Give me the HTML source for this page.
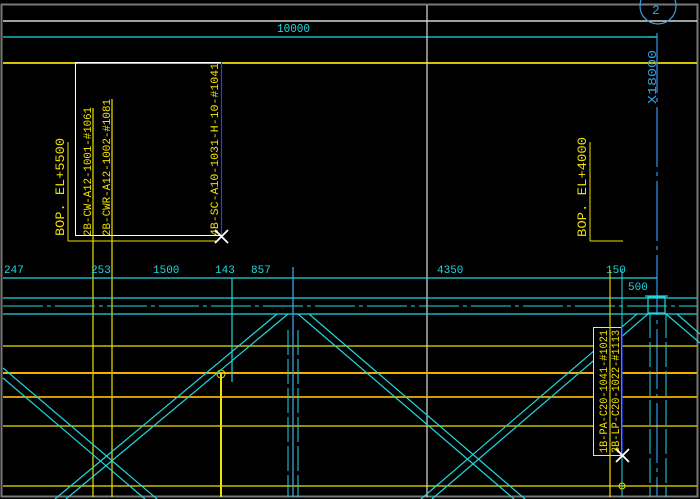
<!DOCTYPE html>
<html><head><style>
html,body{margin:0;padding:0;background:#000;width:700px;height:499px;overflow:hidden}
svg{display:block}
text{font-family:"Liberation Mono",monospace}
</style></head><body>
<svg width="700" height="499" viewBox="0 0 700 499" xmlns="http://www.w3.org/2000/svg">
<rect x="0" y="0" width="700" height="499" fill="#000"/>
<rect x="1.5" y="4.5" width="696" height="492" fill="none" stroke="#777" stroke-width="2"/>
<line x1="3" y1="21" x2="697" y2="21" stroke="#fff" stroke-width="1.2"/>
<line x1="3" y1="37" x2="657" y2="37" stroke="#1ed8e0" stroke-width="1.2"/>
<line x1="3" y1="63" x2="697" y2="63" stroke="#f0e000" stroke-width="1.8"/>
<text x="277" y="32" fill="#1ed8e0" font-size="12" textLength="33" lengthAdjust="spacingAndGlyphs">10000</text>
<line x1="427" y1="5" x2="427" y2="497" stroke="#ddd" stroke-width="1.2"/>
<circle cx="658" cy="6" r="18" fill="none" stroke="#3aa0e0" stroke-width="1.2"/>
<text x="652" y="14" fill="#3aa0e0" font-size="13">2</text>
<line x1="657" y1="33" x2="657" y2="497" stroke="#2a8ae0" stroke-width="1.3" stroke-dasharray="60,5,4,5"/>
<line x1="649" y1="37" x2="657" y2="37" stroke="#1ed8e0" stroke-width="1.2"/>
<text transform="translate(656,104) rotate(-90)" fill="#3aa0e0" font-size="12" textLength="54" lengthAdjust="spacingAndGlyphs">X18000</text>
<rect x="75.5" y="62.5" width="146" height="173" fill="none" stroke="#fff" stroke-width="1"/>
<line x1="221.5" y1="62" x2="221.5" y2="236" stroke="#2040ff" stroke-width="1.2"/>
<line x1="68" y1="142" x2="68" y2="241" stroke="#f0e000" stroke-width="1"/>
<line x1="68" y1="241" x2="216" y2="241" stroke="#f0e000" stroke-width="1"/>
<text transform="translate(64,236) rotate(-90)" fill="#f0e000" font-size="13" textLength="98" lengthAdjust="spacingAndGlyphs">BOP. EL+5500</text>
<text transform="translate(91,236) rotate(-90)" fill="#f0e000" font-size="11" textLength="129" lengthAdjust="spacingAndGlyphs">2B-CW-A12-1001-#1061</text>
<text transform="translate(110,236) rotate(-90)" fill="#f0e000" font-size="11" textLength="137" lengthAdjust="spacingAndGlyphs">2B-CWR-A12-1002-#1081</text>
<text transform="translate(218,236) rotate(-90)" fill="#f0e000" font-size="11" textLength="173" lengthAdjust="spacingAndGlyphs">4B-SC-A10-1031-H-10-#1041</text>
<line x1="93" y1="108" x2="93" y2="497" stroke="#f0e000" stroke-width="1.2"/>
<line x1="112" y1="99" x2="112" y2="497" stroke="#f0e000" stroke-width="1.2"/>
<path d="M215,230 L228,243 M228,230 L215,243" stroke="#fff" stroke-width="1.8"/>
<line x1="590" y1="142" x2="590" y2="241" stroke="#f0e000" stroke-width="1"/>
<line x1="590" y1="241" x2="623" y2="241" stroke="#f0e000" stroke-width="1"/>
<text transform="translate(586,237) rotate(-90)" fill="#f0e000" font-size="13" textLength="100" lengthAdjust="spacingAndGlyphs">BOP. EL+4000</text>
<g fill="#1ed8e0" font-size="11">
<text x="4" y="273">247</text><text x="91" y="273">253</text><text x="153" y="273">1500</text>
<text x="215" y="273">143</text><text x="251" y="273">857</text><text x="437" y="273">4350</text>
<text x="606" y="273">150</text><text x="628" y="290">500</text>
</g>
<line x1="3" y1="278" x2="657" y2="278" stroke="#1ed8e0" stroke-width="1.3"/>
<line x1="3" y1="298" x2="697" y2="298" stroke="#1ed8e0" stroke-width="1.2"/>
<line x1="3" y1="306" x2="697" y2="306" stroke="#1ed8e0" stroke-width="1.1" stroke-dasharray="40,4,4,4"/>
<line x1="3" y1="314" x2="697" y2="314" stroke="#1ed8e0" stroke-width="1.2"/>
<line x1="3" y1="346" x2="697" y2="346" stroke="#f0e000" stroke-width="1.2"/>
<line x1="3" y1="373" x2="697" y2="373" stroke="#f0b000" stroke-width="2"/>
<line x1="3" y1="397" x2="697" y2="397" stroke="#f0b000" stroke-width="1.8"/>
<line x1="3" y1="426" x2="697" y2="426" stroke="#f0e000" stroke-width="1.2"/>
<line x1="3" y1="486" x2="697" y2="486" stroke="#f0e000" stroke-width="1.2"/>
<line x1="221" y1="373" x2="221" y2="497" stroke="#f0e000" stroke-width="2"/>
<circle cx="221" cy="374" r="4" fill="none" stroke="#f0e000"/>
<line x1="232" y1="278" x2="232" y2="382" stroke="#1ed8e0" stroke-width="1.2"/>
<line x1="293" y1="267" x2="293" y2="497" stroke="#3aa0e0" stroke-width="1.3"/>
<line x1="288" y1="330" x2="288" y2="497" stroke="#1ed8e0" stroke-width="1" stroke-dasharray="25,4"/>
<line x1="298" y1="330" x2="298" y2="497" stroke="#1ed8e0" stroke-width="1" stroke-dasharray="25,4"/>
<g stroke="#1ed8e0" stroke-width="1.2" fill="none">
<line x1="288" y1="314" x2="66" y2="499"/>
<line x1="277" y1="314" x2="55" y2="499"/>
<line x1="3" y1="368" x2="157" y2="499"/>
<line x1="3" y1="378" x2="145" y2="499"/>
<line x1="298" y1="314" x2="514" y2="499"/>
<line x1="309" y1="314" x2="525" y2="499"/>
<line x1="648" y1="314" x2="432" y2="499"/>
<line x1="637" y1="314" x2="421" y2="499"/>
<line x1="666" y1="314" x2="700" y2="343"/>
<line x1="677" y1="314" x2="700" y2="334"/>
</g>
<rect x="648" y="297" width="17" height="16" fill="none" stroke="#1ed8e0" stroke-width="1.2"/>
<line x1="645" y1="296" x2="668" y2="296" stroke="#1ed8e0" stroke-width="1.2"/>
<line x1="650" y1="313" x2="650" y2="497" stroke="#1ed8e0" stroke-width="1" stroke-dasharray="25,4"/>
<line x1="666" y1="313" x2="666" y2="497" stroke="#1ed8e0" stroke-width="1" stroke-dasharray="25,4"/>
<line x1="610" y1="270" x2="610" y2="497" stroke="#f0e000" stroke-width="1.1"/>
<line x1="622" y1="270" x2="622" y2="497" stroke="#1ed8e0" stroke-width="1"/>
<rect x="593.5" y="327.5" width="28" height="128" fill="#000" stroke="#ddd" stroke-width="1"/>
<line x1="622" y1="327" x2="622" y2="455" stroke="#2040ff" stroke-width="1.3"/>
<line x1="610" y1="327" x2="610" y2="497" stroke="#f0e000" stroke-width="1.1"/>
<text transform="translate(607,453) rotate(-90)" fill="#f0e000" font-size="11" textLength="123" lengthAdjust="spacingAndGlyphs">1B-PA-C20-1041-#1021</text>
<text transform="translate(619,453) rotate(-90)" fill="#f0e000" font-size="11" textLength="123" lengthAdjust="spacingAndGlyphs">3B-LP-C20-1022-#1113</text>
<path d="M616,449 L629,462 M629,449 L616,462" stroke="#fff" stroke-width="1.8"/>
<circle cx="622" cy="486" r="3" fill="none" stroke="#f0e000"/>
</svg>
</body></html>
